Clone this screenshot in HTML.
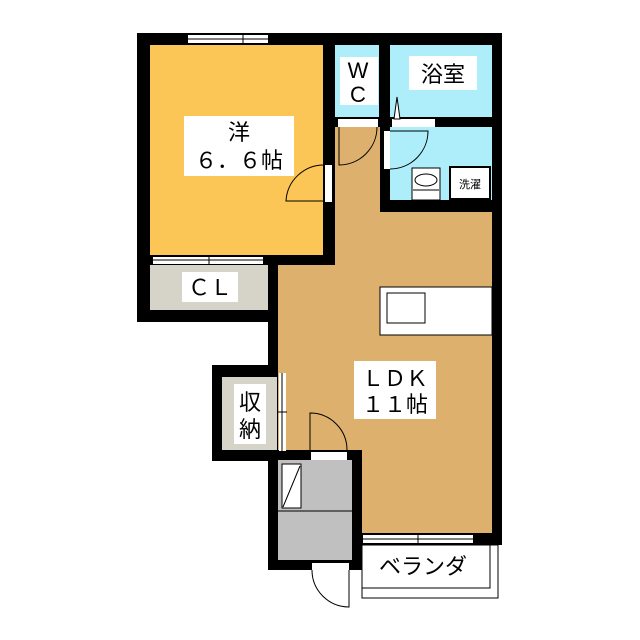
<!DOCTYPE html>
<html><head><meta charset="utf-8"><style>
body{margin:0;background:#fff}
svg{display:block}
text{font-family:"Liberation Sans","Noto Sans CJK JP",sans-serif;fill:#000}
</style></head><body>
<svg width="640" height="640" viewBox="0 0 640 640">
<rect width="640" height="640" fill="#fff"/>
<!-- wall mass -->
<rect x="137" y="33" width="365" height="232" fill="#000"/>
<rect x="137" y="255" width="143" height="67" fill="#000"/>
<rect x="268" y="200" width="234" height="345" fill="#000"/>
<rect x="212" y="365" width="76" height="96" fill="#000"/>
<rect x="268" y="450" width="94" height="120" fill="#000"/>
<!-- rooms -->
<rect x="150" y="45" width="173" height="210" fill="#fbc655"/>
<rect x="335" y="45" width="44" height="72" fill="#aeeefb"/>
<rect x="390" y="45" width="102" height="72" fill="#aeeefb"/>
<rect x="390" y="127" width="102" height="73" fill="#aeeefb"/>
<polygon points="335,127 380,127 380,212 492,212 492,533 362,533 362,450 278,450 278,265 335,265" fill="#ddb06d"/>
<rect x="150" y="265" width="118" height="45" fill="#d6d4c9"/>
<rect x="222" y="377" width="55" height="73" fill="#d6d4c9"/>
<rect x="278" y="460" width="74" height="100" fill="#c0c0c0"/>
<line x1="278" y1="511" x2="352" y2="511" stroke="#000" stroke-width="1"/>
<rect x="282" y="464" width="19" height="44" fill="#fff" stroke="#000"/>
<line x1="283" y1="507" x2="300" y2="466" stroke="#000"/>
<!-- balcony -->
<rect x="362" y="545" width="136" height="53" fill="#fff" stroke="#000"/>
<rect x="362" y="545" width="128" height="43" fill="#fff" stroke="#000"/>
<!-- windows -->
<rect x="188" y="35" width="80" height="8" fill="#fff"/><line x1="188" y1="39" x2="268" y2="39" stroke="#000"/><line x1="243" y1="35" x2="243" y2="43" stroke="#000"/>
<rect x="153" y="257" width="110" height="7" fill="#fff"/><line x1="153" y1="260" x2="263" y2="260" stroke="#000"/><line x1="209" y1="256" x2="209" y2="264" stroke="#000"/>
<rect x="363" y="535" width="110" height="8" fill="#fff"/><line x1="363" y1="539" x2="473" y2="539" stroke="#000"/><line x1="418" y1="534" x2="418" y2="543" stroke="#000"/>
<rect x="279" y="373" width="7" height="78" fill="#fff"/><line x1="282" y1="373" x2="282" y2="451" stroke="#000"/><line x1="278" y1="412" x2="287" y2="412" stroke="#000"/>
<!-- doors -->
<rect x="338" y="119" width="40" height="8" fill="#fff"/>
<path d="M339,127 L339,165 A38,38 0 0 0 377,127" fill="none" stroke="#000"/>
<rect x="392" y="119" width="43" height="8" fill="#fff"/>
<polygon points="394,119 397,97 400,119" fill="#fff" stroke="#000"/>
<rect x="384" y="131" width="6" height="38" fill="#fff"/>
<path d="M390,169 A38,38 0 0 0 428,131 L390,131" fill="none" stroke="#000"/>
<rect x="325" y="165" width="7" height="37" fill="#fff"/>
<path d="M325,201 L286,201 A38,38 0 0 1 325,165" fill="none" stroke="#000"/>
<rect x="311" y="452" width="36" height="8" fill="#fff"/>
<path d="M310,450 L310,413 A37,37 0 0 1 347,450" fill="none" stroke="#000"/>
<rect x="312" y="563" width="37" height="7" fill="#fff"/>
<path d="M312,570 A37,37 0 0 0 349,607 L349,570" fill="none" stroke="#000"/>
<!-- fixtures -->
<rect x="412" y="168" width="28" height="32" fill="#fff" stroke="#000"/>
<ellipse cx="426" cy="180" rx="11" ry="6" fill="#fff" stroke="#000"/>
<line x1="413" y1="190" x2="439" y2="190" stroke="#000"/>
<rect x="450" y="167" width="40" height="32" fill="#fff" stroke="#000" stroke-width="2"/>
<text x="470" y="188" font-size="11" text-anchor="middle">洗濯</text>
<rect x="380" y="287" width="112" height="48" fill="#fff" stroke="#000"/>
<rect x="387" y="293" width="38" height="30" fill="#fff" stroke="#000"/>
<!-- labels -->
<rect x="340" y="57" width="38" height="48" fill="#fff"/>
<text x="358" y="78" font-size="22" text-anchor="middle">W</text>
<text x="358" y="102" font-size="22" text-anchor="middle">C</text>
<rect x="409" y="56" width="68" height="34" fill="#fff"/>
<text x="443" y="82" font-size="22" text-anchor="middle">浴室</text>
<rect x="184" y="116" width="110" height="60" fill="#fff"/>
<text x="239" y="140" font-size="22" text-anchor="middle">洋</text>
<text x="239" y="168" font-size="22" text-anchor="middle">６．６帖</text>
<rect x="182" y="272" width="56" height="30" fill="#fff"/>
<text x="210" y="295" font-size="22" text-anchor="middle">ＣＬ</text>
<rect x="354" y="361" width="82" height="58" fill="#fff"/>
<text x="395" y="386" font-size="22" text-anchor="middle">ＬＤＫ</text>
<text x="395" y="412" font-size="22" text-anchor="middle">１１帖</text>
<rect x="234" y="384" width="32" height="60" fill="#fff"/>
<text x="250" y="410" font-size="22" text-anchor="middle">収</text>
<text x="250" y="437" font-size="22" text-anchor="middle">納</text>
<text x="423" y="574" font-size="22" text-anchor="middle">ベランダ</text>
</svg>
</body></html>
